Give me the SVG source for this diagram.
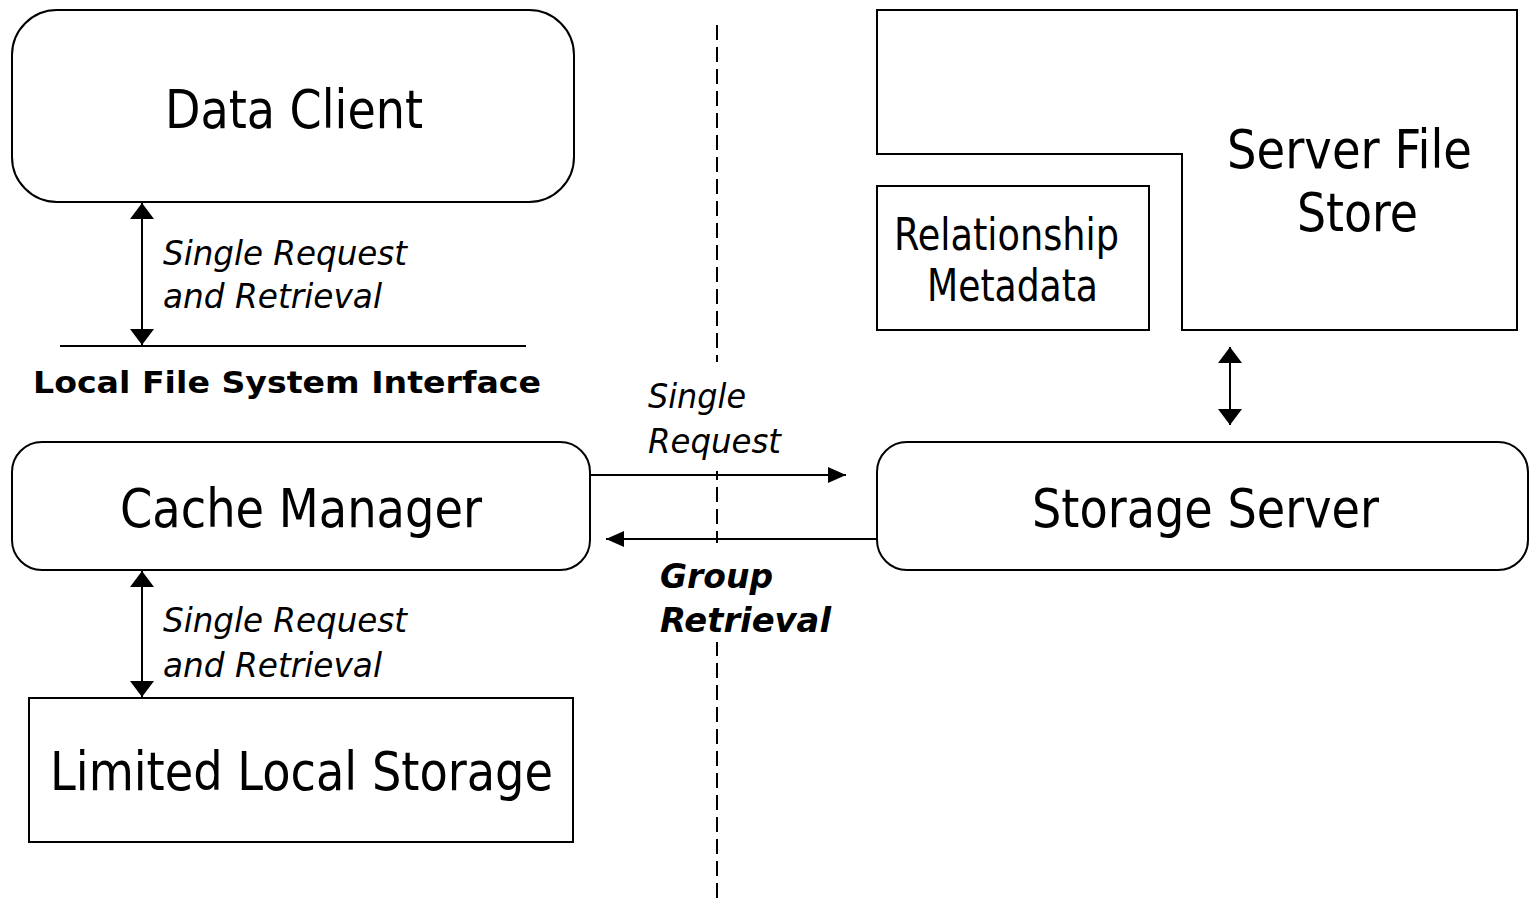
<svg xmlns="http://www.w3.org/2000/svg" width="1530" height="904" viewBox="0 0 1530 904">
  <defs>
    <!-- wide head for the vertical double arrows -->
    <marker id="head-wide" viewBox="0 0 16 24" refX="16" refY="12" markerWidth="16" markerHeight="24" markerUnits="userSpaceOnUse" orient="auto-start-reverse">
      <path d="M0,0 L16,12 L0,24 z" fill="#000"/>
    </marker>
    <!-- narrower head for the horizontal arrows -->
    <marker id="head-narrow" viewBox="0 0 18 16" refX="18" refY="8" markerWidth="18" markerHeight="16" markerUnits="userSpaceOnUse" orient="auto-start-reverse">
      <path d="M0,0 L18,8 L0,16 z" fill="#000"/>
    </marker>
    <style>
      .box { fill: #fff; stroke: #000; stroke-width: 2; }
      .big { font-family: "DejaVu Sans Condensed", "DejaVu Sans", sans-serif; font-size: 54px; fill: #000; }
      .mid { font-family: "DejaVu Sans Condensed", "DejaVu Sans", sans-serif; font-size: 44px; fill: #000; }
      .lbl { font-family: "DejaVu Sans", sans-serif; font-size: 33px; font-style: italic; fill: #000; }
      .glbl { font-family: "DejaVu Sans", sans-serif; font-size: 33px; font-style: italic; font-weight: bold; fill: #000; }
      .iface { font-family: "DejaVu Sans", sans-serif; font-size: 31px; font-weight: bold; fill: #000; }
      .link { stroke: #000; stroke-width: 2; fill: none; }
      .pad { fill: #fff; stroke: none; }
    </style>
  </defs>
  <rect width="1530" height="904" fill="#fff"/>

  <!-- client / server boundary -->
  <line x1="717" y1="25" x2="717" y2="904" stroke="#000" stroke-width="2" stroke-dasharray="15 7"/>

  <g id="data-client">
    <rect class="box" x="12" y="10" width="562" height="192" rx="45" ry="45"/>
    <text class="big" x="165" y="128" textLength="258" lengthAdjust="spacingAndGlyphs">Data Client</text>
  </g>

  <g id="local-fs-interface">
    <line x1="60" y1="346" x2="526" y2="346" stroke="#000" stroke-width="2"/>
    <text class="iface" x="33" y="393" textLength="508" lengthAdjust="spacingAndGlyphs">Local File System Interface</text>
  </g>

  <g id="cache-manager">
    <rect class="box" x="12" y="442" width="578" height="128" rx="30" ry="30"/>
    <text class="big" x="120" y="527" textLength="362" lengthAdjust="spacingAndGlyphs">Cache Manager</text>
  </g>

  <g id="limited-local-storage">
    <rect class="box" x="29" y="698" width="544" height="144"/>
    <text class="big" x="50" y="790" textLength="503" lengthAdjust="spacingAndGlyphs">Limited Local Storage</text>
  </g>

  <g id="server-file-store">
    <path class="box" d="M877,10 H1517 V330 H1182 V154 H877 Z"/>
    <text class="big" x="1227" y="168" textLength="245" lengthAdjust="spacingAndGlyphs">Server File</text>
    <text class="big" x="1297" y="231" textLength="121" lengthAdjust="spacingAndGlyphs">Store</text>
  </g>

  <g id="relationship-metadata">
    <rect class="box" x="877" y="186" width="272" height="144"/>
    <text class="mid" x="894" y="250" textLength="225" lengthAdjust="spacingAndGlyphs">Relationship</text>
    <text class="mid" x="927" y="301" textLength="171" lengthAdjust="spacingAndGlyphs">Metadata</text>
  </g>

  <g id="storage-server">
    <rect class="box" x="877" y="442" width="651" height="128" rx="30" ry="30"/>
    <text class="big" x="1032" y="527" textLength="347" lengthAdjust="spacingAndGlyphs">Storage Server</text>
  </g>

  <g id="connectors">
    <line class="link" x1="142" y1="203" x2="142" y2="345" marker-start="url(#head-wide)" marker-end="url(#head-wide)"/>
    <line class="link" x1="142" y1="571" x2="142" y2="697" marker-start="url(#head-wide)" marker-end="url(#head-wide)"/>
    <line class="link" x1="1230" y1="347" x2="1230" y2="425" marker-start="url(#head-wide)" marker-end="url(#head-wide)"/>
    <line class="link" x1="590" y1="475" x2="846" y2="475" marker-end="url(#head-narrow)"/>
    <line class="link" x1="877" y1="539" x2="606" y2="539" stroke-width="4" marker-end="url(#head-narrow)"/>

    <text class="lbl" x="163" y="265" textLength="244" lengthAdjust="spacingAndGlyphs">Single Request</text>
    <text class="lbl" x="163" y="308" textLength="219" lengthAdjust="spacingAndGlyphs">and Retrieval</text>
    <text class="lbl" x="163" y="632" textLength="244" lengthAdjust="spacingAndGlyphs">Single Request</text>
    <text class="lbl" x="163" y="677" textLength="219" lengthAdjust="spacingAndGlyphs">and Retrieval</text>

    <rect class="pad" x="640" y="362" width="150" height="109"/>
    <text class="lbl" x="648" y="408" textLength="98" lengthAdjust="spacingAndGlyphs">Single</text>
    <text class="lbl" x="648" y="453" textLength="133" lengthAdjust="spacingAndGlyphs">Request</text>

    <rect class="pad" x="655" y="543" width="180" height="99"/>
    <text class="glbl" x="660" y="588" textLength="113" lengthAdjust="spacingAndGlyphs">Group</text>
    <text class="glbl" x="660" y="632" textLength="171" lengthAdjust="spacingAndGlyphs">Retrieval</text>
  </g>
</svg>
